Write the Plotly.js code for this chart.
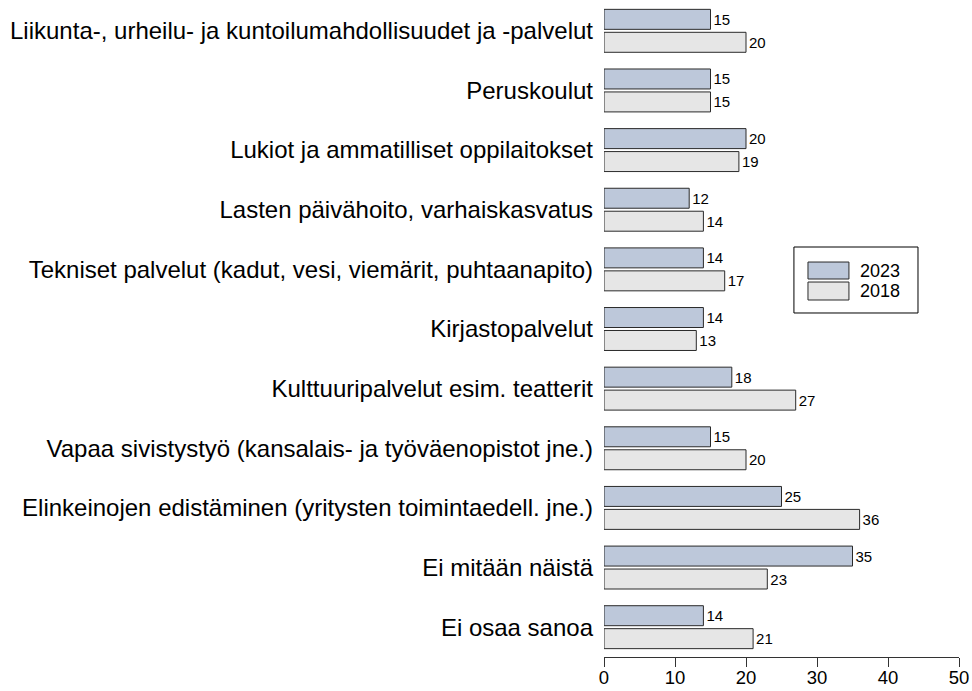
<!DOCTYPE html>
<html>
<head>
<meta charset="utf-8">
<script src="https://cdn.plot.ly/plotly-3.0.1.min.js"></script>
<style>html,body{margin:0;padding:0;background:#fff;}#chart{width:972px;height:691px;}</style>
</head>
<body>
<div id="chart"></div>
<script>
const categories = [
  "Liikunta-, urheilu- ja kuntoilumahdollisuudet ja -palvelut",
  "Peruskoulut",
  "Lukiot ja ammatilliset oppilaitokset",
  "Lasten päivähoito, varhaiskasvatus",
  "Tekniset palvelut (kadut, vesi, viemärit, puhtaanapito)",
  "Kirjastopalvelut",
  "Kulttuuripalvelut esim. teatterit",
  "Vapaa sivistystyö (kansalais- ja työväenopistot jne.)",
  "Elinkeinojen edistäminen (yritysten toimintaedell. jne.)",
  "Ei mitään näistä",
  "Ei osaa sanoa"
];
const values2023 = [15, 15, 20, 12, 14, 14, 18, 15, 25, 35, 14];
const values2018 = [20, 15, 19, 14, 17, 13, 27, 20, 36, 23, 21];
const seriesNames = ["2023", "2018"];
const xTicks = [0, 10, 20, 30, 40, 50];

const colors = ["#bdc8da", "#e6e6e6"];
const font = "Liberation Sans, Arial, sans-serif";

function barTrace(vals, name, color) {
  return {
    type: "bar",
    orientation: "h",
    y: categories,
    x: vals,
    name: name,
    text: vals.map(String),
    textposition: "outside",
    constraintext: "none",
    cliponaxis: false,
    textfont: {family: font, size: 15, color: "#000"},
    marker: {color: color, line: {color: "#2a2a2a", width: 1}},
    hoverinfo: "x+y+name"
  };
}

const data = [
  barTrace(values2023, seriesNames[0], colors[0]),
  barTrace(values2018, seriesNames[1], colors[1])
];

const layout = {
  width: 972,
  height: 691,
  margin: {l: 604, r: 13, t: 1, b: 34},
  paper_bgcolor: "#fff",
  plot_bgcolor: "#fff",
  barmode: "group",
  bargap: 0.23,
  bargroupgap: 0.13,
  showlegend: false,
  font: {family: font, color: "#000"},
  xaxis: {
    range: [0, 50],
    tickvals: xTicks,
    ticktext: xTicks.map(String),
    showgrid: false,
    zeroline: false,
    showline: true,
    linecolor: "#333",
    linewidth: 1,
    ticks: "outside",
    ticklen: 9,
    tickcolor: "#333",
    ticklabelstandoff: -5,
    tickfont: {family: font, size: 18.5, color: "#000"},
    fixedrange: true
  },
  yaxis: {
    type: "category",
    autorange: "reversed",
    showgrid: false,
    zeroline: false,
    showline: false,
    ticks: "",
    ticklabelstandoff: 10,
    tickfont: {family: font, size: 24, color: "#000"},
    fixedrange: true
  },
  shapes: [
    {type: "rect", xref: "paper", yref: "paper", x0: 0.535, x1: 0.8845, y0: 0.5244, y1: 0.625,
     line: {color: "#000", width: 1}, fillcolor: "#fff", layer: "above"},
    {type: "rect", xref: "paper", yref: "paper", x0: 0.5746, x1: 0.690, y0: 0.5762, y1: 0.6021,
     line: {color: "#2a2a2a", width: 1}, fillcolor: colors[0], layer: "above"},
    {type: "rect", xref: "paper", yref: "paper", x0: 0.5746, x1: 0.690, y0: 0.5442, y1: 0.5716,
     line: {color: "#2a2a2a", width: 1}, fillcolor: colors[1], layer: "above"}
  ],
  annotations: [
    {xref: "paper", yref: "paper", x: 0.716, y: 0.589, xanchor: "left", yanchor: "middle",
     text: seriesNames[0], showarrow: false, font: {family: font, size: 18, color: "#000"}},
    {xref: "paper", yref: "paper", x: 0.716, y: 0.558, xanchor: "left", yanchor: "middle",
     text: seriesNames[1], showarrow: false, font: {family: font, size: 18, color: "#000"}}
  ]
};

Plotly.newPlot("chart", data, layout, {displayModeBar: false, staticPlot: true});
</script>
</body>
</html>
